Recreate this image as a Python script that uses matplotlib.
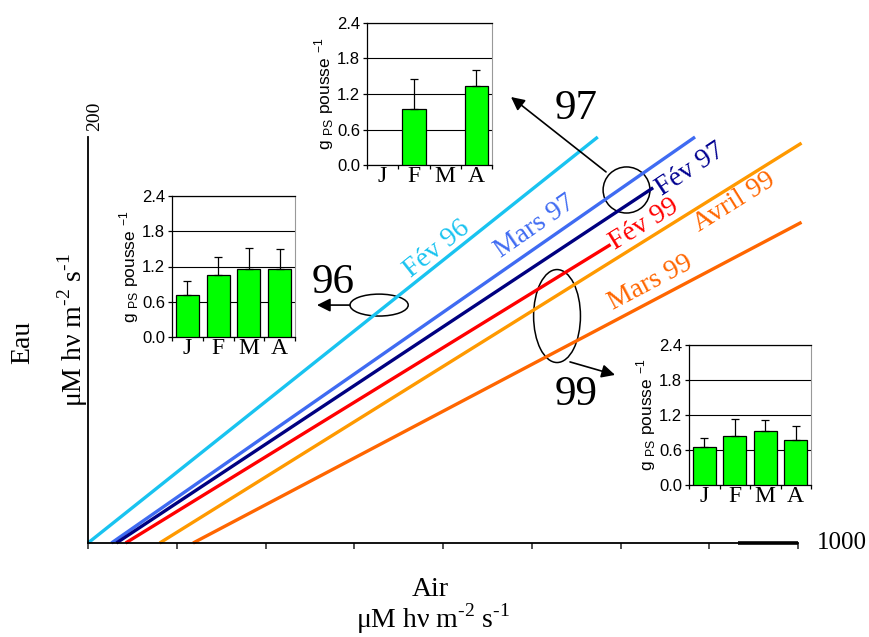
import numpy as np
import matplotlib
matplotlib.use("Agg")
import matplotlib.pyplot as plt
from matplotlib.patches import Ellipse

plt.rcParams['mathtext.fontset'] = 'custom'
plt.rcParams['mathtext.rm'] = 'Liberation Serif'
plt.rcParams['mathtext.sf'] = 'Liberation Sans'

# ---------------- data ----------------
line_names = ['Fév 96', 'Mars 97', 'Fév 97', 'Fév 99', 'Avril 99', 'Mars 99']
line_x0 = [0, 33, 40, 53, 101, 148]
line_y0 = [0, 0, 0, 0, 0, 0]
line_x1 = [718, 855, 796, 736, 1005, 1005]
line_y1 = [200, 200, 175, 147, 197, 158]
line_colors = ['#19C3F0', '#3F6BF2', '#000080', '#FF0000', '#FF9900', '#FF6600']
label_colors = ['#19C3F0', '#3F6BF2', '#000090', '#FF0000', '#FF6600', '#FF6600']
label_x = [491, 630, 848, 783, 911, 793]
label_y = [145, 156, 184, 157, 168, 128]

months = ['J', 'F', 'M', 'A']
yticks_inset = [0.0, 0.6, 1.2, 1.8, 2.4]
ins96_vals = [0.71, 1.06, 1.15, 1.16]
ins96_err = [0.25, 0.30, 0.36, 0.33]
ins97_vals = [None, 0.94, None, 1.34]
ins97_err = [None, 0.52, None, 0.27]
ins99_vals = [0.66, 0.84, 0.93, 0.77]
ins99_err = [0.14, 0.29, 0.19, 0.24]

# ---------------- figure ----------------
W, H = 869, 637
fig = plt.figure(figsize=(W / 100, H / 100), dpi=100)


def fx(px):
    return px / W


def fy(py):
    return 1 - py / H


ax = fig.add_axes([fx(88), fy(543), fx(798) - fx(88), fy(137) - fy(543)])
ax.set_xlim(0, 1000)
ax.set_ylim(0, 200)
for s in ['top', 'right']:
    ax.spines[s].set_visible(False)
for s in ['left', 'bottom']:
    ax.spines[s].set_linewidth(1.3)
    ax.spines[s].set_color('black')
ax.set_xticks(np.arange(0, 1001, 125))
ax.set_xticklabels([])
ax.set_yticks([])
ax.tick_params(axis='x', direction='out', length=4, width=1.2, color='#333333')
ax.plot([915, 1000], [0, 0], color='black', lw=2.6, solid_capstyle='butt', clip_on=False)

for i, name in enumerate(line_names):
    ax.plot([line_x0[i], line_x1[i]], [line_y0[i], line_y1[i]], color=line_colors[i],
            lw=2.4, clip_on=False, solid_capstyle='butt')
    p0 = ax.transData.transform((line_x0[i], line_y0[i]))
    p1 = ax.transData.transform((line_x1[i], line_y1[i]))
    ang = np.degrees(np.arctan2(p1[1] - p0[1], p1[0] - p0[0]))
    ax.text(label_x[i], label_y[i], name, color=label_colors[i], rotation=ang,
            rotation_mode='anchor', ha='center', va='center',
            family='Liberation Serif', fontsize=20)

# ellipses and arrows
ell = [(758.5, 173.9, 66, 22.7), (410, 117.2, 82, 10.8), (660.6, 111.8, 66, 45.8)]
for cx, cy, w, h in ell:
    ax.add_patch(Ellipse((cx, cy), w, h, fill=False, edgecolor='black', lw=1.1, clip_on=False))

arrows = [((729.6, 182.8), (595.8, 219.7)), ((369, 117.2), (322.5, 117.2)),
          ((678.9, 89.2), (742.3, 82.8))]
for (xa, ya), (xb, yb) in arrows:
    ax.annotate('', xy=(xb, yb), xytext=(xa, ya), annotation_clip=False,
                arrowprops=dict(arrowstyle='-|>', mutation_scale=20, lw=1.2,
                                color='black', shrinkA=0, shrinkB=0))

big = [('97', 687, 214), ('96', 345, 128), ('99', 687, 73)]
for t, x, y in big:
    ax.text(x, y, t, ha='center', va='center', family='Liberation Serif', fontsize=31)

unit = r'μM hν m$^{\text{-2}}$ s$^{\text{-1}}$'

# axis texts
fig.text(fx(842), fy(543), '1000', ha='center', va='center', family='Liberation Serif', fontsize=18)
fig.text(fx(95), fy(116), '200', ha='center', va='center', rotation=90,
         family='Liberation Serif', fontsize=14)
fig.text(fx(430), fy(590), 'Air', ha='center', va='center', family='Liberation Serif', fontsize=20)
fig.text(fx(433), fy(619), unit, ha='center', va='center',
         family='Liberation Serif', fontsize=20)
fig.text(fx(23), fy(342), 'Eau', ha='center', va='center', rotation=90,
         family='Liberation Serif', fontsize=20)
fig.text(fx(73), fy(330), unit, ha='center', va='center',
         rotation=90, family='Liberation Serif', fontsize=20)


# ---------------- insets ----------------
def inset(left, top, right, bottom, vals, errs):
    a = fig.add_axes([fx(left), fy(bottom), fx(right) - fx(left), fy(top) - fy(bottom)])
    a.set_facecolor('white')
    xs = [i for i, v in enumerate(vals) if v is not None]
    hs = [vals[i] for i in xs]
    es = [errs[i] for i in xs]
    a.bar(xs, hs, width=0.75, color='#00FF00', edgecolor='black', lw=0.9, zorder=3)
    a.errorbar(xs, hs, yerr=[[0] * len(es), es], fmt='none', ecolor='black',
               elinewidth=0.9, capsize=3, capthick=0.9, zorder=4)
    a.set_xlim(-0.5, 3.5)
    a.set_ylim(0, 2.4)
    a.set_yticks(yticks_inset)
    a.set_yticklabels(['%.1f' % v for v in yticks_inset], family='Liberation Sans', fontsize=12)
    a.yaxis.grid(True, color='black', lw=0.8)
    a.set_axisbelow(True)
    a.set_xticks([-0.5, 0.5, 1.5, 2.5, 3.5])
    a.set_xticklabels([])
    a.set_xticks(range(4), minor=True)
    a.set_xticklabels(months, minor=True, family='Liberation Serif', fontsize=17)
    a.tick_params(axis='x', which='minor', length=0, pad=1)
    a.tick_params(axis='x', which='major', direction='out', length=3, width=0.9)
    a.tick_params(axis='y', direction='out', length=3, width=0.9, pad=2)
    a.spines['right'].set_color('#999999')
    a.spines['top'].set_color('black')
    for s in ['left', 'bottom', 'top']:
        a.spines[s].set_linewidth(0.9)
    a.set_ylabel(r'g $_{\mathsf{PS}}$ pousse $^{\mathsf{-1}}$', family='Liberation Sans',
                 fontsize=12.5, labelpad=1)
    return a


inset(367, 23, 492, 165, ins97_vals, ins97_err)
inset(172, 196, 295, 337, ins96_vals, ins96_err)
inset(689, 345, 811, 485, ins99_vals, ins99_err)

fig.savefig('out.png', dpi=100)
